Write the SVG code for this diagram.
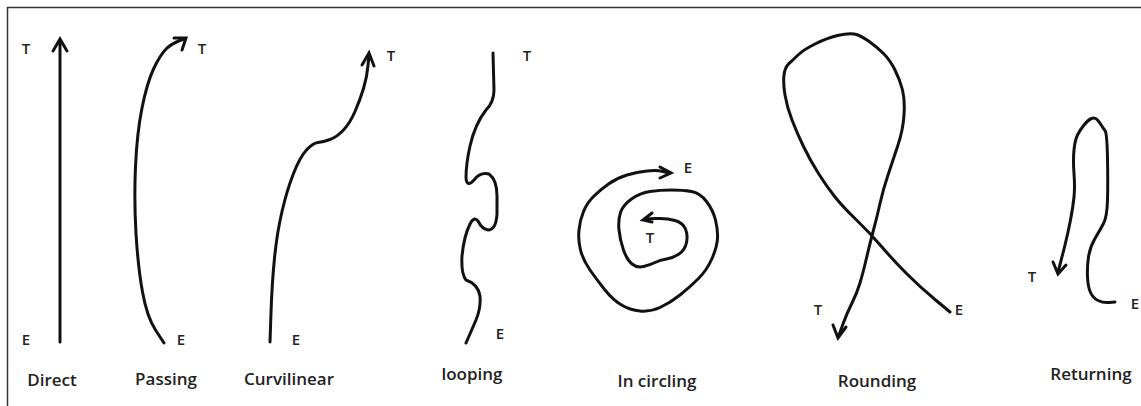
<svg xmlns="http://www.w3.org/2000/svg" width="1141" height="406" viewBox="0 0 1141 406">
<style>
.ln{fill:none;stroke:#111;stroke-width:3;stroke-linecap:round;stroke-linejoin:round}
.hd{fill:none;stroke:#111;stroke-width:3;stroke-linecap:round;stroke-linejoin:miter}
.lb{font-family:"Open Sans","Liberation Sans",sans-serif;font-weight:600;font-size:17px;fill:#222;text-anchor:middle}
.pt{font-family:"Open Sans","Liberation Sans",sans-serif;font-weight:600;font-size:15px;fill:#222;text-anchor:middle}
</style>
<rect x="0" y="0" width="1141" height="406" fill="#fff"/>
<path d="M7.5,406 V7.5 H1141" fill="none" stroke="#333" stroke-width="1.5"/>
<g id="connectors">
<g id="direct-path">
<path class="ln" d="M60,342 V40"/>
<path class="hd" d="M53,51 L60,39 L67,51"/>
</g>
<g id="passing-path">
<path class="ln" d="M164,343 L155.5,330 Q147,317 142.5,292 Q138,267 136,233.5 Q134,200 135.5,166.5 Q137,133 142,108 Q147,83 153.5,69 Q160,55 167,48 Q174,42 184,39"/>
<path class="hd" d="M174,38 L186,38 L182,50"/>
</g>
<g id="curvilinear-path">
<path class="ln" d="M270,342 L271,312.5 Q272,283 274.5,258 Q277,233 282,211.5 Q287,190 293.5,173.5 Q300,157 306.5,150 Q313,143 318,142.5 Q323,142 330,139.5 Q337,137 343.5,130 Q350,123 355,111.5 Q360,100 363.5,88.5 Q367,77 368,65.5 L369,55"/>
<path class="hd" d="M362,65 L369,53 L374,66"/>
</g>
<g id="looping-path">
<path class="ln" d="M493,53 L494,90 Q494,102 486,110 Q475,124 470,146 Q466,164 466,178 Q467,188 474,180 Q480,172 489,174 Q497,180 497,196 L497,214 Q496,230 488,230 Q482,229 478,221 Q474,216 470,224 Q464,236 462,256 Q461,274 466,280 Q478,284 480,296 Q481,308 476,320 L466,343"/>
</g>
<g id="incircling-path">
<path class="ln" d="M669,173 L663,171.5 Q657,170 647,171 Q637,172 627,175 Q617,178 608.5,184 Q600,190 593.5,196.5 Q587,203 583.5,211.5 Q580,220 579,230 Q578,240 580.5,250 Q583,260 590,270 Q597,280 605,290 Q613,300 621.5,305 Q630,310 640,311 Q650,312 660,307.5 Q670,303 680,295 Q690,287 698.5,278.5 Q707,270 712,258.5 Q717,247 717.5,238.5 Q718,230 715.5,220 Q713,210 706.5,201.5 Q700,193 691.5,191.5 Q683,190 671.5,190 Q660,190 650,191.5 Q640,193 631.5,199 Q623,205 620.5,212.5 Q618,220 619,230 Q620,240 623.5,250 Q627,260 632,264 Q637,268 643.5,266.5 Q650,265 655,262.5 Q660,260 666.5,259 Q673,258 679,254 Q685,250 686.5,242.5 Q688,235 685.5,229 Q683,223 675,220.5 Q667,218 656,218.5 L645,219"/>
<path class="hd" d="M660,167 L671,173 L660,178"/>
<path class="hd" d="M652,213 L643,220 L652,222"/>
</g>
<g id="rounding-path">
<path class="ln" d="M950,312 L935,299.5 Q920,287 906.5,273.5 Q893,260 881.5,246.5 Q870,233 856.5,220 Q843,207 835,197 Q827,187 818.5,173.5 Q810,160 803.5,146.5 Q797,133 792,120 Q787,107 785,95 Q783,83 784,75 Q785,67 789,63.5 Q793,60 798,55 Q803,50 815,44 Q827,38 837.5,35.5 Q848,33 854,34 Q860,35 868.5,41 Q877,47 883.5,53.5 Q890,60 895,70 Q900,80 902.5,90 Q905,100 904,115 Q903,130 898,145 Q893,160 888,175 Q883,190 880,203.5 Q877,217 873.5,230 Q870,243 866.5,258 Q863,273 860,283 Q857,293 852,303 Q847,313 843,324 L839,335"/>
<path class="hd" d="M833,325 L838,338 L846,327"/>
</g>
<g id="returning-path">
<path class="ln" d="M1115,302 L1109,302.5 Q1103,303 1098,300.5 Q1093,298 1090.5,292.5 Q1088,287 1087.5,277 Q1087,267 1088.5,257 Q1090,247 1095,238.5 Q1100,230 1103.5,223.5 Q1107,217 1107.5,200 Q1108,183 1107.5,158 Q1107,133 1105,130.5 Q1103,128 1101.5,125.5 Q1100,123 1097.5,120 Q1095,117 1091.5,118.5 Q1088,120 1084,125 Q1080,130 1077.5,135 Q1075,140 1074,150 Q1073,160 1074,173.5 Q1075,187 1074,197 Q1073,207 1070.5,220 Q1068,233 1065,245 Q1062,257 1060,264.5 L1058,272"/>
<path class="hd" d="M1053,262 L1058,274 L1066,265"/>
</g>
</g>
<g id="node-direct">
<text class="pt" x="26" y="54">T</text>
<text class="pt" x="26" y="345">E</text>
<text class="lb" x="52" y="386">Direct</text>
</g>
<g id="node-passing">
<text class="pt" x="202" y="54">T</text>
<text class="pt" x="181" y="345">E</text>
<text class="lb" x="166" y="385">Passing</text>
</g>
<g id="node-curvilinear">
<text class="pt" x="391" y="61">T</text>
<text class="pt" x="296" y="345">E</text>
<text class="lb" x="289" y="385">Curvilinear</text>
</g>
<g id="node-looping">
<text class="pt" x="527" y="61">T</text>
<text class="pt" x="500" y="339">E</text>
<text class="lb" x="472" y="380">looping</text>
</g>
<g id="node-incircling">
<text class="pt" x="688" y="173">E</text>
<text class="pt" x="650" y="243">T</text>
<text class="lb" x="657" y="387">In circling</text>
</g>
<g id="node-rounding">
<text class="pt" x="818" y="315">T</text>
<text class="pt" x="959" y="315">E</text>
<text class="lb" x="877" y="387">Rounding</text>
</g>
<g id="node-returning">
<text class="pt" x="1032" y="282">T</text>
<text class="pt" x="1135" y="309">E</text>
<text class="lb" x="1091" y="380">Returning</text>
</g>
</svg>
